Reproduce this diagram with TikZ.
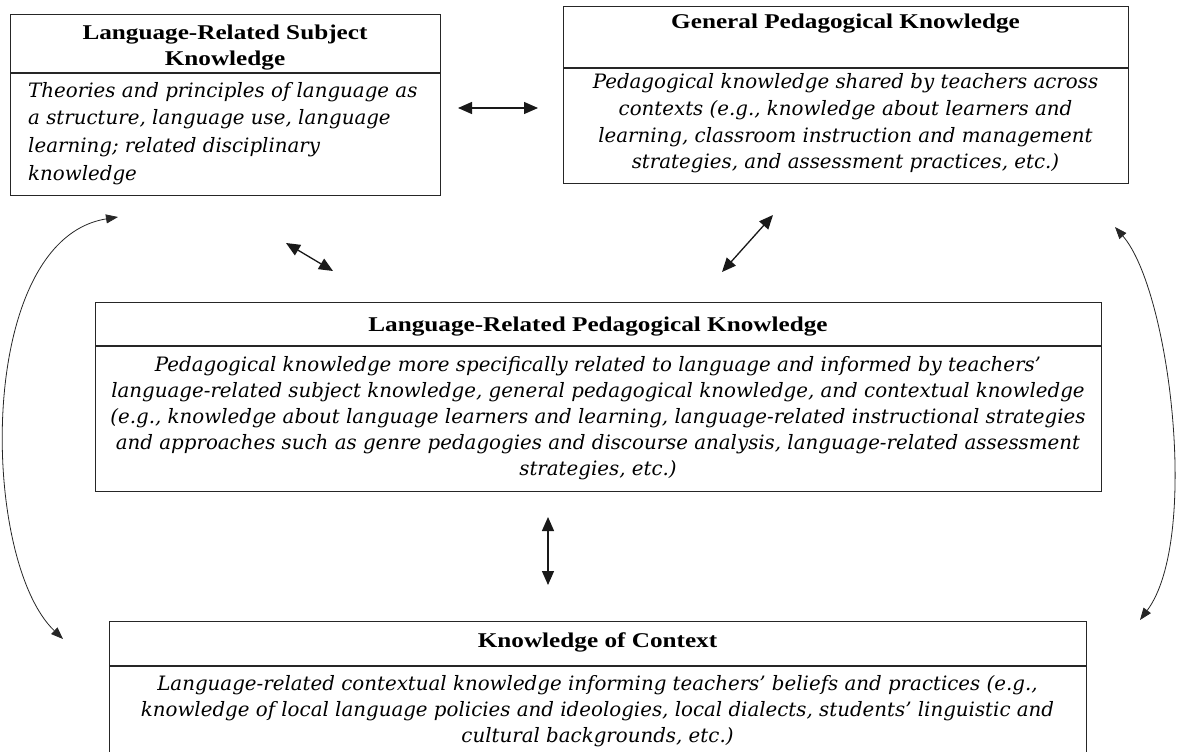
\documentclass[tikz,border=0pt]{standalone}
\usepackage{fontspec}
\usetikzlibrary{arrows.meta}
% heading and body faces
\newfontfamily\headfont{Liberation Serif}[FakeStretch=1.2]
\newfontfamily\bodyfont{DejaVu Serif}

\tikzset{
  box/.style={draw=black!85, line width=1.2pt, rectangle, inner sep=0pt, anchor=north west},
  rule/.style={draw=black!85, line width=1.2pt},
  headtxt/.style={anchor=north, inner sep=0pt, align=center,
    font=\headfont\bfseries\fontsize{21}{26}\selectfont},
  bodytxt/.style={anchor=north, inner sep=0pt,
    font=\bodyfont\itshape\fontsize{19.8}{#1}\selectfont},
  link/.style={{Triangle[length=14pt,width=12pt]}-{Triangle[length=14pt,width=12pt]},
    line width=1.3pt, black!90},
  arc link/.style={{Triangle[length=12pt,width=9pt]}-{Triangle[length=12pt,width=9pt]},
    line width=0.8pt, black!85}
}

\begin{document}
\begin{tikzpicture}[x=1pt,y=-1pt]
\useasboundingbox (0,0) rectangle (1178,752);
\clip (0,0) rectangle (1178,752);

% ---- boxes ----
\node[box, minimum width=430, minimum height=181] (lrsk) at (10,14) {};
\node[box, minimum width=565, minimum height=177] (gpk) at (563,6) {};
\node[box, minimum width=1006, minimum height=189] (lrpk) at (95,302) {};
\node[box, minimum width=977, minimum height=160] (koc) at (109,621) {};

% header dividers
\draw[rule] (lrsk.west |- 0,73) -- (lrsk.east |- 0,73);
\draw[rule] (gpk.west |- 0,68) -- (gpk.east |- 0,68);
\draw[rule] (lrpk.west |- 0,346) -- (lrpk.east |- 0,346);
\draw[rule] (koc.west |- 0,666) -- (koc.east |- 0,666);

% ---- headings ----
\node[headtxt] (lrsk-h) at (225,20.8) {\strut Language-Related Subject\\Knowledge};
\node[headtxt] (gpk-h) at (845.5,9.8) {\strut General Pedagogical Knowledge};
\node[headtxt] (lrpk-h) at (598,312.8) {\strut Language-Related Pedagogical Knowledge};
\node[headtxt] (koc-h) at (597.5,629.3) {\strut Knowledge of Context};

% ---- descriptions ----
\node[bodytxt=27.7, align=left, anchor=north west] (lrsk-b) at (28,77.6)
  {\strut Theories and principles of language as\\
   a structure, language use, language\\
   learning; related disciplinary\\
   knowledge};
\node[bodytxt=26.7, align=center] (gpk-b) at (845.5,69.8)
  {\strut Pedagogical knowledge shared by teachers across\\
   contexts (e.g., knowledge about learners and\\
   learning, classroom instruction and management\\
   strategies, and assessment practices, etc.)};
\node[bodytxt=26, align=center] (lrpk-b) at (598,352.8)
  {\strut Pedagogical knowledge more specifically related to language and informed by teachers’\\
   language-related subject knowledge, general pedagogical knowledge, and contextual knowledge\\
   (e.g., knowledge about language learners and learning, language-related instructional strategies\\
   and approaches such as genre pedagogies and discourse analysis, language-related assessment\\
   strategies, etc.)};
\node[bodytxt=26, align=center] (koc-b) at (597.5,671.8)
  {\strut Language-related contextual knowledge informing teachers’ beliefs and practices (e.g.,\\
   knowledge of local language policies and ideologies, local dialects, students’ linguistic and\\
   cultural backgrounds, etc.)};

% ---- connector end points ----
\coordinate (h-a) at (458,108);
\coordinate (h-b) at (538,108);
\coordinate (dl-a) at (286,243);
\coordinate (dl-b) at (333,271);
\coordinate (dr-a) at (773,215);
\coordinate (dr-b) at (722,272);
\coordinate (v-a) at (548,517);
\coordinate (v-b) at (548,585);
\coordinate (cl-a) at (118,217);
\coordinate (cl-b) at (63,639);
\coordinate (cr-a) at (1115,227);
\coordinate (cr-b) at (1140,620);

% ---- connectors ----
\draw[link] (h-a) -- (h-b);
\draw[link] (dl-a) -- (dl-b);
\draw[link] (dr-a) -- (dr-b);
\draw[link] (v-a) -- (v-b);
\draw[arc link] (cl-a) .. controls (-25,240) and (-20,560) .. (cl-b);
\draw[arc link] (cr-a) .. controls (1170,290) and (1200,540) .. (cr-b);
\end{tikzpicture}
\end{document}
